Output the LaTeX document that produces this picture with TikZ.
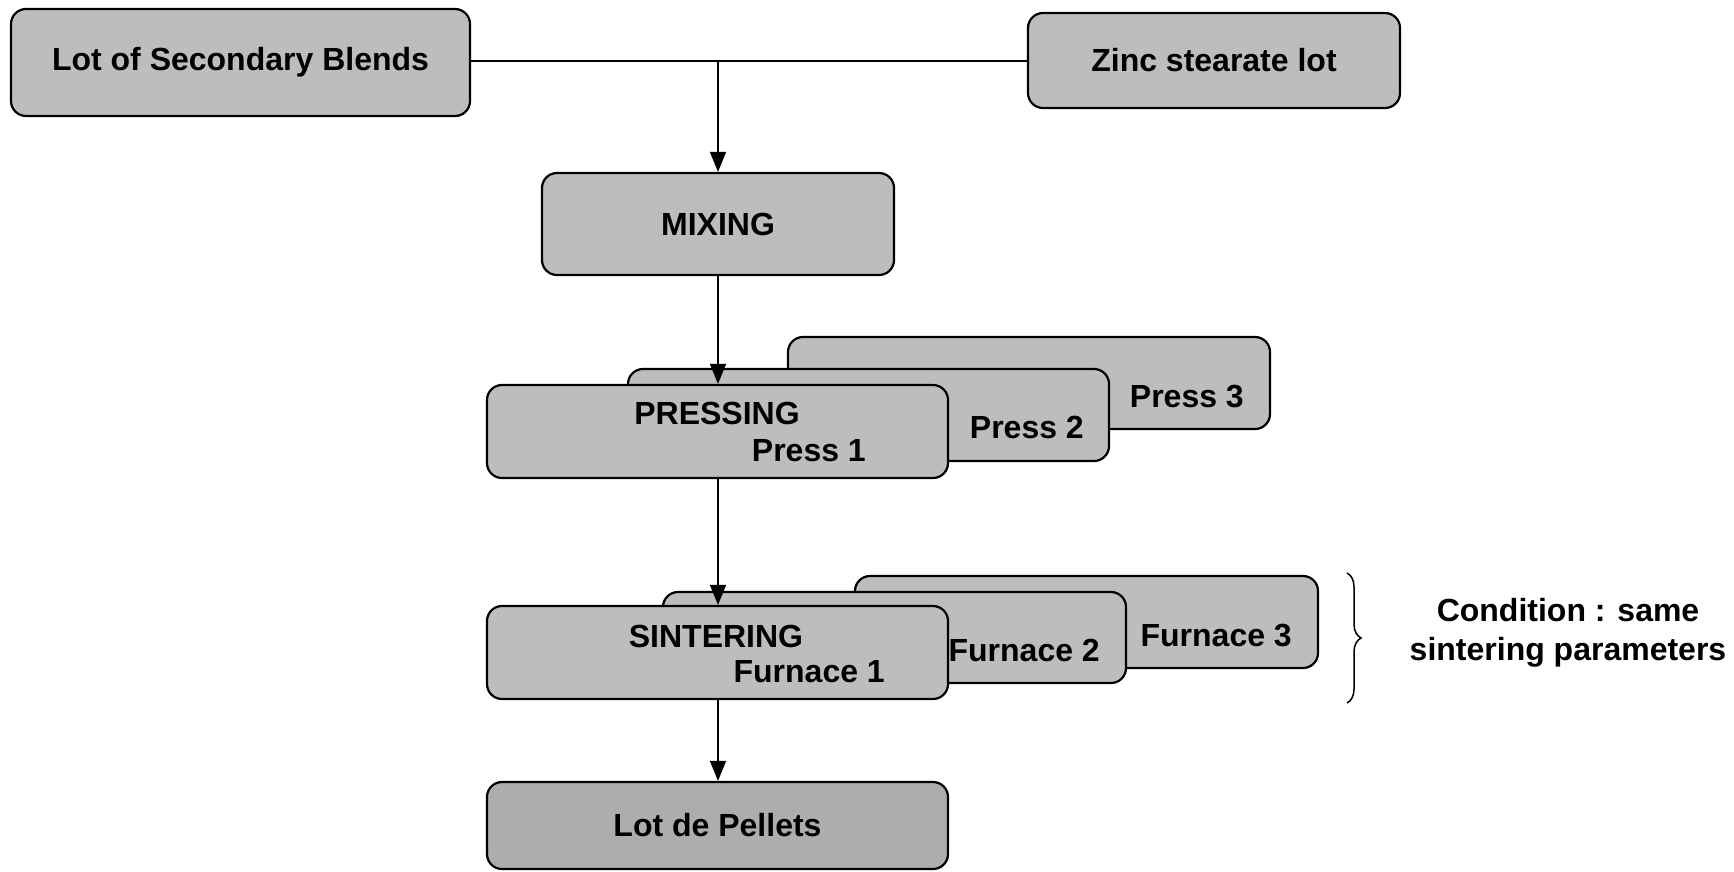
\documentclass[tikz,border=0pt]{standalone}
\usepackage{fontspec}
\setmainfont{Liberation Sans}
\usetikzlibrary{arrows.meta,decorations.pathreplacing}
\definecolor{boxgray}{gray}{0.74}
\definecolor{boxgraydark}{gray}{0.68}
\begin{document}
\begin{tikzpicture}[x=1pt,y=-1pt,
  box/.style={draw=black, line width=2.2pt, rounded corners=15pt, fill=boxgray, inner sep=0pt,
    font=\fontsize{32}{38}\selectfont\bfseries},
  lbl/.style={font=\fontsize{32}{38}\selectfont\bfseries, inner sep=0pt},
  conn/.style={line width=1.6pt},
  arr/.style={conn, -{Triangle[length=20pt,width=16pt]}}]
\useasboundingbox (0,0) rectangle (1734,871);

% top row
\node[box, minimum width=459pt, minimum height=107pt] (lsb) at (240.5,62.5) {Lot of Secondary Blends};
\node[box, minimum width=372pt, minimum height=95pt] (zinc) at (1214,60.5) {Zinc stearate lot};
\coordinate (junc) at (718,61);
\draw[conn] (lsb.east |- junc) -- (junc) -- (zinc.west |- junc);

% mixing
\node[box, minimum width=352pt, minimum height=102pt] (mix) at (718,224) {MIXING};
\draw[arr] (junc) -- (mix.north);

% presses
\node[box, minimum width=482pt, minimum height=92pt] (press3) at (1029,383) {};
\node[lbl, anchor=east] (p3t) at (1244,396) {Press 3};
\node[box, minimum width=481pt, minimum height=92pt] (press2) at (868.5,415) {};
\node[lbl, anchor=east] (p2t) at (1084,427) {Press 2};
\node[box, minimum width=461pt, minimum height=93pt] (press1) at (717.5,431.5) {};
\node[lbl] (presst) at (717,413) {PRESSING};
\node[lbl, anchor=east] (p1t) at (866,451) {Press 1};
\draw[arr] (mix.south) -- (mix.south |- press1.north);

% furnaces
\node[box, minimum width=463pt, minimum height=92pt] (fur3) at (1086.5,622) {};
\node[lbl, anchor=east] (f3t) at (1292,635) {Furnace 3};
\node[box, minimum width=463pt, minimum height=91pt] (fur2) at (894.5,637.5) {};
\node[lbl, anchor=east] (f2t) at (1100,650) {Furnace 2};
\node[box, minimum width=461pt, minimum height=93pt] (fur1) at (717.5,652.5) {};
\node[lbl] (sintt) at (716,636) {SINTERING};
\node[lbl, anchor=east] (f1t) at (885,672) {Furnace 1};
\draw[arr] (mix.south |- press1.south) -- (mix.south |- fur1.north);

% pellets
\node[box, fill=boxgraydark, minimum width=461pt, minimum height=87pt] (pel) at (717.5,825.5) {Lot de Pellets};
\draw[arr] (mix.south |- fur1.south) -- (mix.south |- pel.north);

% brace and condition
\coordinate (brtop) at (1347,573);
\coordinate (brbot) at (1347,703);
\draw[line width=1.5pt, decorate, decoration={brace, amplitude=14pt}] (brtop) -- (brbot);
\node[lbl, align=center, font=\fontsize{32}{39}\selectfont\bfseries] (cond) at (1568,633) {Condition : same\\sintering parameters};
\end{tikzpicture}
\end{document}
